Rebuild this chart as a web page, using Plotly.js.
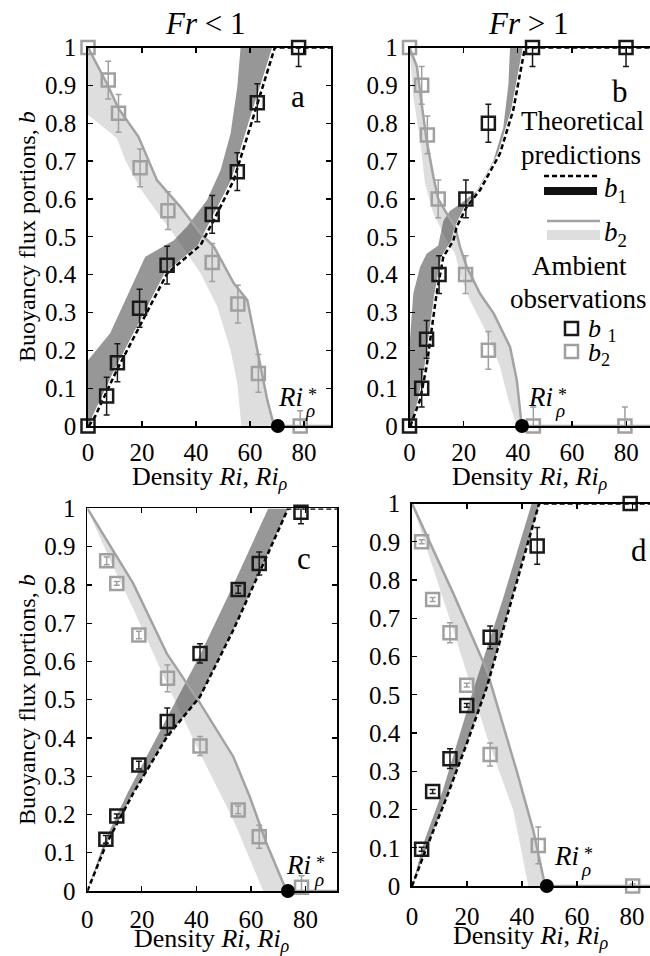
<!DOCTYPE html>
<html><head><meta charset="utf-8">
<script src="https://cdn.plot.ly/plotly-3.0.1.min.js"></script>
<style>html,body{margin:0;padding:0;background:#fff}#chart{width:650px;height:956px}</style>
</head><body><div id="chart"></div>
<script>
// ---------------- DATA ----------------
// Panel a (Fr < 1)
const a_b1_x = [0, 6.9, 10.9, 19.1, 29.3, 46.0, 55.3, 62.7, 78.0];
const a_b1_y = [0, 0.079, 0.167, 0.311, 0.425, 0.559, 0.672, 0.854, 1.0];
const a_b1_errUp = [0, 0.05, 0.05, 0.05, 0.05, 0.05, 0.05, 0.05, 0];
const a_b1_errDn = [0, 0.05, 0.05, 0.05, 0.05, 0.05, 0.05, 0.05, 0.05];
const a_b2_x = [0, 7.5, 11.3, 19.3, 29.6, 46.0, 55.5, 63.1, 78.6];
const a_b2_y = [1.0, 0.914, 0.826, 0.682, 0.569, 0.432, 0.322, 0.139, 0];
const a_b2_errUp = [0, 0.05, 0.05, 0.05, 0.05, 0.05, 0.05, 0.05, 0.04];
const a_b2_errDn = [0, 0.05, 0.05, 0.05, 0.05, 0.05, 0.05, 0.05, 0];
const a_dash_x = [0.3, 2.6, 10.7, 18.7, 29.3, 41.7, 46.6, 54.0, 61.5, 66.4, 69.2, 90];
const a_dash_y = [0, 0.025, 0.148, 0.258, 0.403, 0.478, 0.544, 0.65, 0.826, 0.936, 1.0, 1.0];
const a_dark_left_x = [0, 0, 8.2, 15.0, 21.2, 31.7, 36.7, 44.1, 49.1, 52.8, 55.3, 56.5];
const a_dark_left_y = [0, 0.174, 0.245, 0.35, 0.447, 0.49, 0.527, 0.597, 0.676, 0.773, 0.896, 1.0];
const a_dark_right_x = [68.2, 65.4, 60.5, 53.0, 45.6, 40.7, 28.3, 17.7, 9.7, 1.6, 0.3];
const a_dark_right_y = [1.0, 0.936, 0.826, 0.65, 0.544, 0.478, 0.403, 0.258, 0.148, 0.025, 0];
const a_light_left_x = [0, 4.5, 10.7, 13.8, 19.3, 26.8, 34.2, 41.7, 47.9, 52.8, 55.3, 56.8];
const a_light_left_y = [0.822, 0.795, 0.760, 0.703, 0.628, 0.553, 0.483, 0.403, 0.315, 0.2, 0.113, 0];
const a_gray_x = [0, 3.2, 7.0, 11.3, 18.7, 25.5, 34.2, 41.7, 46.6, 54.0, 59.0, 62.7, 66.4, 68.9, 90];
const a_gray_y = [1, 0.958, 0.905, 0.839, 0.764, 0.65, 0.579, 0.509, 0.474, 0.377, 0.333, 0.201, 0.069, 0, 0];

// Panel b (Fr > 1)
const b_b1_x = [0, 4.5, 6.3, 10.9, 20.8, 29.1, 45.4, 79.9];
const b_b1_y = [0, 0.10, 0.229, 0.40, 0.60, 0.80, 1.0, 1.0];
const b_b1_errUp = [0, 0.05, 0.05, 0.05, 0.05, 0.05, 0, 0];
const b_b1_errDn = [0, 0.05, 0.05, 0.05, 0.05, 0.05, 0.05, 0.05];
const b_b2_x = [0, 4.5, 6.6, 10.6, 20.7, 29.1, 45.7, 79.5];
const b_b2_y = [1.0, 0.90, 0.769, 0.60, 0.40, 0.20, 0, 0];
const b_b2_errUp = [0, 0.05, 0.05, 0.05, 0.05, 0.05, 0.05, 0.05];
const b_b2_errDn = [0, 0.05, 0.05, 0.05, 0.05, 0.05, 0, 0];
const b_dash_x = [0.3, 3.9, 6.3, 8.2, 10.0, 12.5, 16.2, 17.4, 21.1, 26.0, 33.4, 38.3, 40.8, 42.6, 89];
const b_dash_y = [0, 0.069, 0.157, 0.254, 0.35, 0.447, 0.49, 0.526, 0.579, 0.623, 0.72, 0.835, 0.932, 1.0, 1.0];
const b_dark_left_x = [0, 0, 1.4, 3.9, 6.3, 10.6, 12.5, 14.9, 18.6, 24.8, 30.9, 34.6, 36.5, 37.1];
const b_dark_left_y = [0, 0.21, 0.35, 0.42, 0.455, 0.477, 0.542, 0.568, 0.586, 0.621, 0.70, 0.788, 0.903, 1.0];
const b_dark_right_x = [41.8, 40.0, 37.5, 32.6, 25.2, 20.3, 16.6, 15.4, 11.7, 9.2, 7.4, 5.5, 3.1, 0.3];
const b_dark_right_y = [1.0, 0.932, 0.835, 0.72, 0.623, 0.579, 0.526, 0.49, 0.447, 0.35, 0.254, 0.157, 0.069, 0];
const b_light_left_x = [0, 1.4, 3.9, 5.7, 8.8, 11.3, 13.7, 16.8, 18.6, 22.3, 28.5, 33.4, 36.5, 39.6];
const b_light_left_y = [1.0, 0.87, 0.756, 0.641, 0.562, 0.527, 0.491, 0.456, 0.403, 0.333, 0.245, 0.157, 0.069, 0];
const b_gray_x = [0, 2.7, 4.5, 6.3, 8.8, 10.6, 13.7, 16.8, 18.6, 21.1, 26.0, 31.1, 37.1, 39.6, 40.8, 41.4, 89];
const b_gray_y = [1, 0.95, 0.85, 0.756, 0.659, 0.60, 0.562, 0.527, 0.474, 0.421, 0.35, 0.297, 0.209, 0.121, 0.042, 0, 0];

// Panel c
const c_b1_x = [6.8, 10.8, 18.9, 29.3, 41.3, 55.3, 63.0, 78.3];
const c_b1_y = [0.135, 0.196, 0.329, 0.443, 0.621, 0.788, 0.856, 0.99];
const c_b1_errUp = [0.01, 0.005, 0.01, 0.035, 0.025, 0.01, 0.03, 0.01];
const c_b1_errDn = [0.01, 0.005, 0.01, 0.035, 0.025, 0.01, 0.03, 0.03];
const c_b2_x = [7.1, 10.8, 18.9, 29.4, 41.3, 55.3, 63.0, 78.5];
const c_b2_y = [0.863, 0.804, 0.669, 0.556, 0.379, 0.212, 0.142, 0.01];
const c_b2_errUp = [0.01, 0.005, 0.01, 0.035, 0.025, 0.01, 0.03, 0.03];
const c_b2_errDn = [0.01, 0.005, 0.01, 0.035, 0.025, 0.01, 0.03, 0.01];
const c_dash_x = [0, 7.1, 16.8, 29.2, 41.3, 53.5, 65.7, 73.6, 91.5];
const c_dash_y = [0, 0.125, 0.255, 0.403, 0.508, 0.682, 0.874, 1.0, 1.0];
const c_dark_left_x = [0, 6.0, 15.0, 29.1, 41.3, 53.5, 66.3];
const c_dark_left_y = [0, 0.125, 0.26, 0.451, 0.617, 0.80, 1.0];
const c_dark_right_x = [73.6, 65.7, 53.5, 41.3, 29.2, 16.8, 7.1, 0];
const c_dark_right_y = [1.0, 0.874, 0.682, 0.508, 0.403, 0.255, 0.125, 0];
const c_light_left_x = [0, 8.3, 17.0, 29.1, 41.3, 53.5, 64.5];
const c_light_left_y = [1.0, 0.865, 0.735, 0.543, 0.36, 0.186, 0];
const c_gray_x = [0, 16.8, 29.1, 41.3, 53.5, 59.6, 65.7, 73.0, 91.5];
const c_gray_y = [1, 0.804, 0.621, 0.491, 0.351, 0.245, 0.124, 0, 0];

// Panel d
const d_b1_x = [3.5, 7.5, 13.8, 19.9, 28.4, 45.5, 79.3];
const d_b1_y = [0.096, 0.247, 0.333, 0.472, 0.65, 0.889, 1.0];
const d_b1_err = [0.005, 0.005, 0.026, 0.005, 0.03, 0.048, 0];
const d_b2_x = [3.5, 7.5, 13.8, 19.9, 28.4, 45.9, 80.2];
const d_b2_y = [0.90, 0.749, 0.662, 0.525, 0.344, 0.106, 0.0];
const d_b2_err = [0.005, 0.005, 0.026, 0.005, 0.03, 0.048, 0.005];
const d_dash_x = [0, 5.3, 12.6, 19.9, 27.2, 34.4, 41.7, 46.2, 86.5];
const d_dash_y = [0, 0.10, 0.232, 0.372, 0.52, 0.704, 0.888, 1.0, 1.0];
const d_dark_left_x = [0, 4.6, 11.2, 21.7, 33.0, 43.5];
const d_dark_left_y = [0, 0.12, 0.25, 0.50, 0.75, 1.0];
const d_dark_right_x = [46.4, 41.7, 34.4, 27.2, 19.9, 12.6, 5.3, 0];
const d_dark_right_y = [1.0, 0.888, 0.704, 0.52, 0.372, 0.232, 0.10, 0];
const d_light_left_x = [0, 5.3, 15.0, 27.2, 36.8, 42.3];
const d_light_left_y = [1.0, 0.887, 0.669, 0.39, 0.198, 0];
const d_gray_x = [0, 15.0, 27.2, 38.0, 44.1, 48.4, 86.5];
const d_gray_y = [1, 0.765, 0.564, 0.302, 0.145, 0, 0];

// Critical density Richardson numbers Ri*_rho (panels a, b, c, d)
const riStar = [70.3, 41.5, 73.5, 49.0];

// Texts
const panelTitles = ['<i>Fr</i> &lt; 1', '<i>Fr</i> &gt; 1'];
const panelLetters = ['a', 'b', 'c', 'd'];
const xTitle = 'Density <i>Ri</i>, <i>Ri</i><sub><i>ρ</i></sub>';
const yTitle = 'Buoyancy flux portions, <i>b</i>';

// ---------------- STYLE ----------------
const W = 650, H = 956;
const FONT = '"Liberation Serif", "Times New Roman", Times, serif';
const C_B1 = '#1a1a1a', C_B2 = '#a0a0a0', C_GRAYLINE = '#a3a3a3';
const C_LIGHT = '#dedede', C_DARK = 'rgba(75,75,75,0.58)';
const px = x => x / W;
const py = y => 1 - y / H;

function poly(xa, ya, xb, yb) { return { x: xa.concat(xb), y: ya.concat(yb) }; }

function panel(ax, p) {
  const xa = 'x' + ax, ya = 'y' + ax;
  const tr = [];
  const lp = poly(p.gray_x, p.gray_y, p.light_left_x.slice().reverse(), p.light_left_y.slice().reverse());
  tr.push({ type: 'scatter', mode: 'lines', x: lp.x, y: lp.y, fill: 'toself', fillcolor: C_LIGHT,
    line: { width: 0 }, xaxis: xa, yaxis: ya, hoverinfo: 'skip', showlegend: false });
  const dp = poly(p.dark_left_x, p.dark_left_y, p.dark_right_x, p.dark_right_y);
  tr.push({ type: 'scatter', mode: 'lines', x: dp.x, y: dp.y, fill: 'toself', fillcolor: C_DARK,
    line: { width: 0 }, xaxis: xa, yaxis: ya, hoverinfo: 'skip', showlegend: false });
  tr.push({ type: 'scatter', mode: 'lines', x: p.gray_x, y: p.gray_y, line: { color: C_GRAYLINE, width: 2.5 },
    xaxis: xa, yaxis: ya, showlegend: false });
  tr.push({ type: 'scatter', mode: 'lines', x: p.dash_x, y: p.dash_y, line: { color: '#000', width: 2.5, dash: '5px,3px' },
    xaxis: xa, yaxis: ya, showlegend: false });
  tr.push({ type: 'scatter', mode: 'markers', x: p.b2_x, y: p.b2_y, cliponaxis: false,
    marker: { symbol: 'square-open', size: 13, color: C_B2, line: { width: 2.5, color: C_B2 } },
    error_y: { type: 'data', symmetric: false, array: p.b2_up, arrayminus: p.b2_dn, color: C_B2, thickness: 1.5, width: 3 },
    xaxis: xa, yaxis: ya, showlegend: false });
  tr.push({ type: 'scatter', mode: 'markers', x: p.b1_x, y: p.b1_y, cliponaxis: false,
    marker: { symbol: 'square-open', size: 13, color: C_B1, line: { width: 2.5, color: C_B1 } },
    error_y: { type: 'data', symmetric: false, array: p.b1_up, arrayminus: p.b1_dn, color: C_B1, thickness: 1.5, width: 3 },
    xaxis: xa, yaxis: ya, showlegend: false });
  tr.push({ type: 'scatter', mode: 'markers', x: [p.ri], y: [0], cliponaxis: false,
    marker: { symbol: 'circle', size: 14, color: '#000' }, xaxis: xa, yaxis: ya, showlegend: false });
  return tr;
}

const data = [].concat(
  panel('', { b1_x: a_b1_x, b1_y: a_b1_y, b1_up: a_b1_errUp, b1_dn: a_b1_errDn,
    b2_x: a_b2_x, b2_y: a_b2_y, b2_up: a_b2_errUp, b2_dn: a_b2_errDn,
    dash_x: a_dash_x, dash_y: a_dash_y, dark_left_x: a_dark_left_x, dark_left_y: a_dark_left_y,
    dark_right_x: a_dark_right_x, dark_right_y: a_dark_right_y, light_left_x: a_light_left_x, light_left_y: a_light_left_y,
    gray_x: a_gray_x, gray_y: a_gray_y, ri: riStar[0] }),
  panel('2', { b1_x: b_b1_x, b1_y: b_b1_y, b1_up: b_b1_errUp, b1_dn: b_b1_errDn,
    b2_x: b_b2_x, b2_y: b_b2_y, b2_up: b_b2_errUp, b2_dn: b_b2_errDn,
    dash_x: b_dash_x, dash_y: b_dash_y, dark_left_x: b_dark_left_x, dark_left_y: b_dark_left_y,
    dark_right_x: b_dark_right_x, dark_right_y: b_dark_right_y, light_left_x: b_light_left_x, light_left_y: b_light_left_y,
    gray_x: b_gray_x, gray_y: b_gray_y, ri: riStar[1] }),
  panel('3', { b1_x: c_b1_x, b1_y: c_b1_y, b1_up: c_b1_errUp, b1_dn: c_b1_errDn,
    b2_x: c_b2_x, b2_y: c_b2_y, b2_up: c_b2_errUp, b2_dn: c_b2_errDn,
    dash_x: c_dash_x, dash_y: c_dash_y, dark_left_x: c_dark_left_x, dark_left_y: c_dark_left_y,
    dark_right_x: c_dark_right_x, dark_right_y: c_dark_right_y, light_left_x: c_light_left_x, light_left_y: c_light_left_y,
    gray_x: c_gray_x, gray_y: c_gray_y, ri: riStar[2] }),
  panel('4', { b1_x: d_b1_x, b1_y: d_b1_y, b1_up: d_b1_err, b1_dn: d_b1_err,
    b2_x: d_b2_x, b2_y: d_b2_y, b2_up: d_b2_err, b2_dn: d_b2_err,
    dash_x: d_dash_x, dash_y: d_dash_y, dark_left_x: d_dark_left_x, dark_left_y: d_dark_left_y,
    dark_right_x: d_dark_right_x, dark_right_y: d_dark_right_y, light_left_x: d_light_left_x, light_left_y: d_light_left_y,
    gray_x: d_gray_x, gray_y: d_gray_y, ri: riStar[3] })
);

const tickFont = { family: FONT, size: 25, color: '#000' };
function xax(d0, d1, r, anchor, standoff) {
  return { domain: [px(d0), px(d1)], range: [0, r], anchor: anchor, dtick: 20, tick0: 0,
    showline: true, linecolor: '#000', linewidth: 1.8, mirror: 'ticks', ticks: 'inside', ticklen: 5, tickwidth: 1.2,
    tickcolor: '#000', showgrid: false, zeroline: false, tickfont: tickFont, ticklabelstandoff: standoff };
}
function yax(top, bot, anchor, mirror) {
  return { domain: [py(bot), py(top)], range: [0, 1], anchor: anchor, dtick: 0.1, tick0: 0,
    showline: true, linecolor: '#000', linewidth: 1.8, mirror: mirror, ticks: 'inside', ticklen: 5, tickwidth: 1.2,
    tickcolor: '#000', showgrid: false, zeroline: false, tickfont: tickFont, ticklabelstandoff: 5 };
}

function ann(text, x, y, size, xanchor, angle) {
  const o = { text: text, x: px(x), y: py(y), xref: 'paper', yref: 'paper', showarrow: false,
    xanchor: xanchor || 'center', yanchor: 'middle', font: { family: FONT, size: size, color: '#000' } };
  if (angle) o.textangle = angle;
  return o;
}
const riPos = [[276, 397, 306, 395, 303, 410], [526, 397, 556, 395, 553, 410],
               [284, 865, 314, 863, 312, 879], [552, 856, 582, 854, 579, 869]];
const annotations = [
  ann(panelTitles[0], 205, 24, 31), ann(panelTitles[1], 528, 24, 31),
  ann(panelLetters[0], 298, 96, 31), ann(panelLetters[1], 620, 92, 31),
  ann(panelLetters[2], 304, 558, 31), ann(panelLetters[3], 639, 550, 31),
  ann('Theoretical', 582, 121, 27), ann('predictions', 581, 155, 27),
  ann('<i>b</i><sub>1</sub>', 602, 190, 27, 'left'), ann('<i>b</i><sub>2</sub>', 602, 234, 27, 'left'),
  ann('Ambient', 579, 266, 27), ann('observations', 578, 299, 27),
  ann('<i>b</i> <sub>1</sub>', 586, 330, 26, 'left'), ann('<i>b</i><sub>2</sub>', 586, 354, 26, 'left'),
  ann(xTitle, 210, 478, 26), ann(xTitle, 530, 478, 26),
  ann(xTitle, 212, 940, 26), ann(xTitle, 531, 937, 26),
  ann(yTitle, 27, 237, 24, 'center', -90), ann(yTitle, 27, 700, 24, 'center', -90)
];
riPos.forEach(p => {
  annotations.push(ann('<i>Ri</i>', p[0], p[1], 27, 'left'));
  annotations.push(ann('*', p[2], p[3], 18, 'left'));
  annotations.push(ann('<i>ρ</i>', p[4], p[5], 19, 'left'));
});

const shapes = [
  { type: 'line', xref: 'paper', yref: 'paper', x0: px(544), x1: px(597), y0: py(176), y1: py(176),
    line: { color: '#000', width: 2.5, dash: '5px,3px' } },
  { type: 'rect', xref: 'paper', yref: 'paper', x0: px(544), x1: px(597), y0: py(195), y1: py(187),
    fillcolor: '#111', line: { width: 0 } },
  { type: 'line', xref: 'paper', yref: 'paper', x0: px(547), x1: px(600), y0: py(221), y1: py(221),
    line: { color: C_GRAYLINE, width: 2.5 } },
  { type: 'rect', xref: 'paper', yref: 'paper', x0: px(547), x1: px(600), y0: py(240), y1: py(230),
    fillcolor: C_LIGHT, line: { width: 0 } },
  { type: 'rect', xref: 'paper', yref: 'paper', x0: px(565), x1: px(578), y0: py(335), y1: py(322),
    line: { color: C_B1, width: 2.5 } },
  { type: 'rect', xref: 'paper', yref: 'paper', x0: px(565), x1: px(578), y0: py(358), y1: py(345),
    line: { color: C_B2, width: 2.5 } }
];

const layout = {
  width: W, height: H, margin: { l: 0, r: 0, t: 0, b: 0 }, paper_bgcolor: '#fff', plot_bgcolor: 'rgba(0,0,0,0)',
  showlegend: false, font: { family: FONT, color: '#000' },
  xaxis: xax(88, 331, 90, 'y', 3),
  yaxis: yax(47.5, 426, 'x', 'ticks'),
  xaxis2: xax(409.5, 650, 88.75, 'y2', 3),
  yaxis2: yax(47.5, 426, 'x2', false),
  xaxis3: xax(87.3, 337, 91.5, 'y3', 5),
  yaxis3: yax(508.4, 891, 'x3', 'ticks'),
  xaxis4: xax(412, 650, 86.5, 'y4', 7),
  yaxis4: yax(503.5, 886, 'x4', false),
  annotations: annotations, shapes: shapes
};

Plotly.newPlot('chart', data, layout, { displayModeBar: false, staticPlot: true });
</script></body></html>
